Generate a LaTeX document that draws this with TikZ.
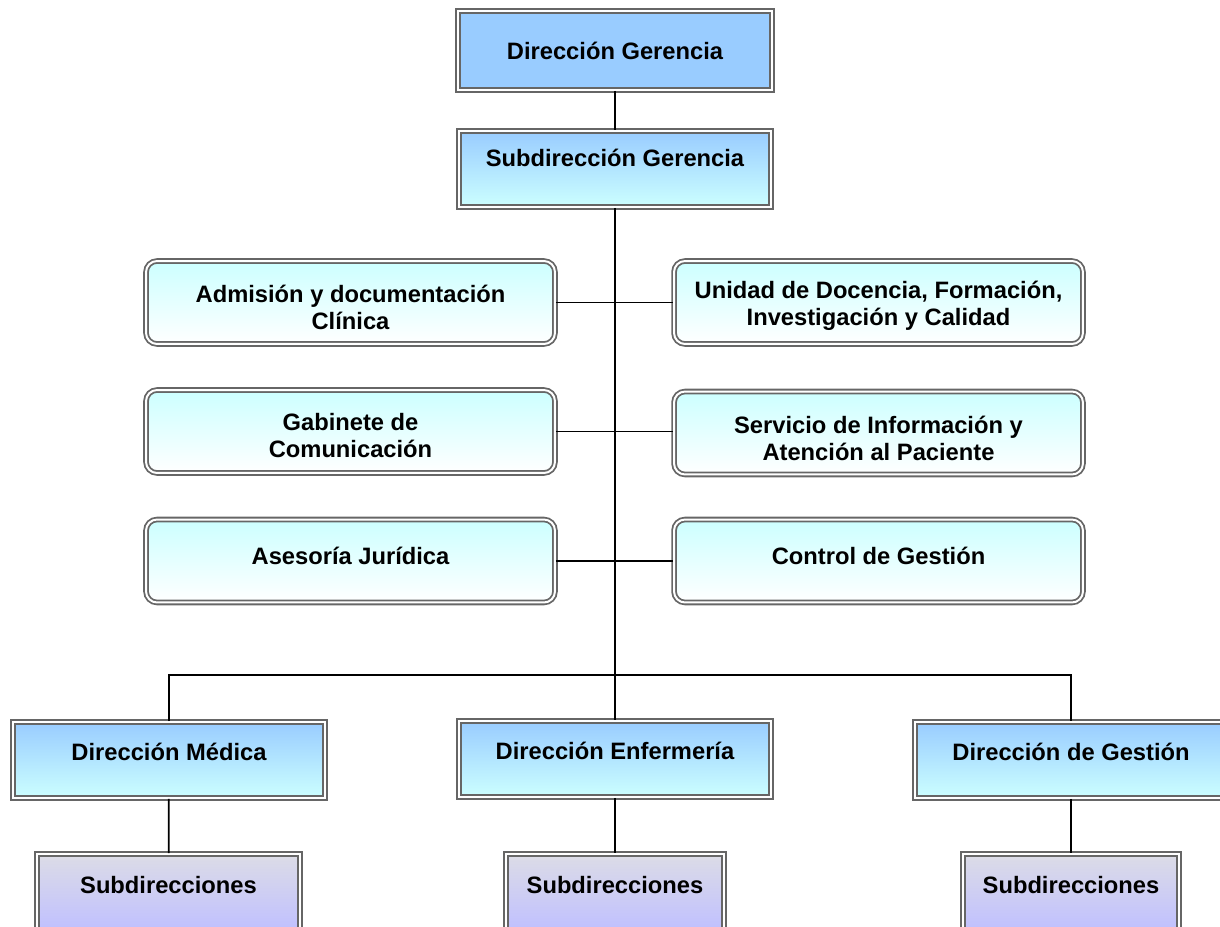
\documentclass[tikz,border=0pt]{standalone}
\usepackage{fontspec}
\setmainfont{Liberation Sans}
\usepackage{tikz}
\usetikzlibrary{shapes,positioning}

\definecolor{boxblue}{HTML}{99CCFF}
\definecolor{boxcyan}{HTML}{CCFFFF}
\definecolor{boxlila}{HTML}{C0C0FF}
\definecolor{boxgrey}{HTML}{DCDCE6}
\definecolor{rimgrey}{HTML}{666666}

\tikzset{
  rim/.style={draw=rimgrey, line width=0.036cm, double=white,
    double distance=0.04cm, font=\fontsize{13.5}{15.4}\selectfont\bfseries,
    align=center, inner sep=0pt},
  topbox/.style={rim, rectangle, fill=boxblue,
    minimum width=6.28cm, minimum height=1.58cm},
  dirbox/.style={rim, rectangle, top color=boxblue, bottom color=boxcyan,
    minimum width=6.24cm, minimum height=1.52cm,
    text height=0.35cm, text depth=0.32cm},
  sidebox/.style={rim, rectangle, rounded corners=0.22cm,
    top color=boxcyan, bottom color=white,
    minimum width=8.18cm, minimum height=1.66cm},
  subbox/.style={rim, rectangle, top color=boxgrey, bottom color=boxlila,
    minimum height=1.52cm, text height=0.35cm, text depth=0.3cm},
  link/.style={draw=black, line width=1pt}
}

\begin{document}
\begin{tikzpicture}[x=0.02cm, y=-0.02cm]
  \useasboundingbox (0,0) rectangle (1220,926);
  \clip (0,0) rectangle (1220,926);

  % top of the chart
  \node[topbox] (dg) at (615,50.5) {Dirección Gerencia};
  \node[dirbox, text depth=0.46cm] (sg) at (615,169) {Subdirección Gerencia};

  % staff units
  \node[sidebox, text height=1.09cm] (adm) at (350.5,302.5)
    {Admisión y documentación\\Clínica};
  \node[sidebox, text height=1.01cm] (uni) at (878.5,302.5)
    {Unidad de Docencia, Formación,\\Investigación y Calidad};
  \node[sidebox, text height=1.03cm] (gab) at (350.5,431.5)
    {Gabinete de\\Comunicación};
  \node[sidebox, text height=1.11cm] (ser) at (878.5,433)
    {Servicio de Información y\\Atención al Paciente};
  \node[sidebox, text height=0.35cm, text depth=0.2cm] (ase) at (350.5,561)
    {Asesoría Jurídica};
  \node[sidebox, text height=0.35cm, text depth=0.2cm] (con) at (878.5,561)
    {Control de Gestión};

  % directions
  \node[dirbox] (dm) at (169,760) {Dirección Médica};
  \node[dirbox] (de) at (615,759) {Dirección Enfermería};
  \node[dirbox] (dgs) at (1071,760) {Dirección de Gestión};

  % sub-directions
  \node[subbox, minimum width=5.26cm] (sm) at (168.5,892) {Subdirecciones};
  \node[subbox, minimum width=4.36cm] (se) at (615,892) {Subdirecciones};
  \node[subbox, minimum width=4.32cm] (sgs) at (1071,892) {Subdirecciones};

  \coordinate (bus) at (615,675);

      \draw [link] (dg) -- (sg);
      \draw [link] (sg.south) -- (de.north);
      \draw [link] (adm.east) -- (uni.west);
      \draw [link] (gab.east) -- (ser.west |- gab.east);
      \draw [link] (ase.east) -- (con.west);
      \draw [link] (dm.north) |- (bus) -| (dgs.north);
      \draw [link] (dm) -- (sm);
      \draw [link] (de) -- (se);
      \draw [link] (dgs) -- (sgs);
    \end{tikzpicture}
\end{document}
